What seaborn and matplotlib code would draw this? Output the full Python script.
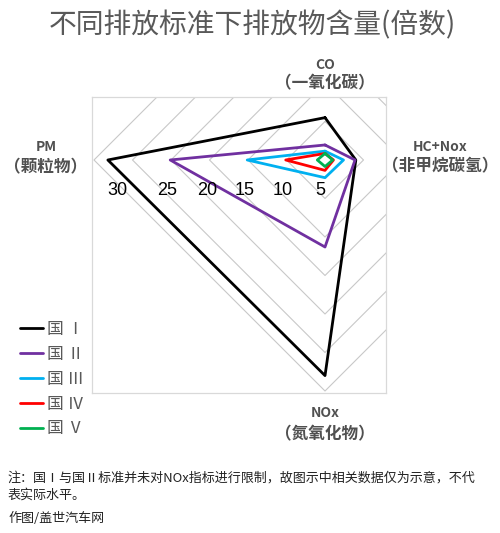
import matplotlib
matplotlib.use("Agg")
import matplotlib.pyplot as plt
import seaborn as sns
import pandas as pd
import numpy as np

# ---- data ----
categories = ["CO", "HC+Nox", "NOx", "PM"]
cat_names = ["（一氧化碳）", "（非甲烷碳氢）", "（氮氧化物）", "（颗粒物）"]
series_names = ["国 Ⅰ", "国 Ⅱ", "国 Ⅲ", "国 Ⅳ", "国 Ⅴ"]
guo1 = [5.5, 4.0, 28.0, 28.2]
guo2 = [1.95, 3.9, 11.3, 20.1]
guo3 = [1.15, 2.4, 2.3, 10.1]
guo4 = [0.85, 1.1, 1.35, 5.1]
guo5 = [0.85, 1.0, 0.85, 1.0]
ring_values = [5, 10, 15, 20, 25, 30]
tick_labels = ["30", "25", "20", "15", "10", "5"]
colors = ["#000000", "#7030A0", "#00B0F0", "#FF0000", "#00B050"]

sns.set_theme(style="white")
plt.rcParams["font.family"] = ["Noto Sans CJK SC", "DejaVu Sans"]

W, H = 500, 533
fig = plt.figure(figsize=(W / 100, H / 100), dpi=100)

def fx(x):
    return x / W

def fy(y):
    return 1 - y / H

# axes frame in pixels: x 92..386, y 97..393 ; center at (325,160), 7.7 px/unit
ax = fig.add_axes([fx(92), fy(393), 294 / W, 296 / H])
ax.set_xlim(-30.26, 7.92)
ax.set_ylim(-30.26, 8.18)
ax.set_xticks([])
ax.set_yticks([])
for s in ax.spines.values():
    s.set_color("#d9d9d9")
    s.set_linewidth(0.9)

# direction of each category axis: CO up, HC right, NOx down, PM left
dirs = {"CO": (0, 1), "HC+Nox": (1, 0), "NOx": (0, -1), "PM": (-1, 0)}

# grid rings (diamonds)
for r in ring_values:
    gx = [dirs[c][0] * r for c in categories] + [dirs[categories[0]][0] * r]
    gy = [dirs[c][1] * r for c in categories] + [dirs[categories[0]][1] * r]
    ax.plot(gx, gy, color="#c8c8c8", lw=0.8, zorder=1)

rows = []
for name, vals in zip(series_names, [guo1, guo2, guo3, guo4, guo5]):
    seq = list(zip(categories, vals)) + [(categories[0], vals[0])]
    for i, (c, v) in enumerate(seq):
        rows.append({"series": name, "order": i,
                     "x": dirs[c][0] * v, "y": dirs[c][1] * v})
df = pd.DataFrame(rows)

sns.lineplot(data=df, x="x", y="y", hue="series", hue_order=series_names,
             palette=colors, sort=False, estimator=None, linewidth=2.0,
             ax=ax, zorder=3)
ax.set_xlabel("")
ax.set_ylabel("")

# value labels along the PM axis (placed as in the original)
label_r = [26.9, 20.5, 15.3, 10.4, 5.5, 0.6]
for r, t in zip(label_r, tick_labels):
    ax.text(-r, -3.9, t, ha="center", va="center", fontsize=13,
            color="#000000", family=["Liberation Sans", "DejaVu Sans"], zorder=4)

# legend
handles, labels = ax.get_legend_handles_labels()
for h, c in zip(handles, colors):
    h.set_linewidth(2.0)
    h.set_color(c)
leg = ax.legend(handles, labels, loc="upper left",
                bbox_to_anchor=(fx(20), fy(321)), bbox_transform=fig.transFigure,
                frameon=False, fontsize=12, handlelength=1.4, handletextpad=0.25,
                labelspacing=0.47, borderpad=0, borderaxespad=0)
for t in leg.get_texts():
    t.set_color("#595959")

# title
fig.text(fx(252), fy(25), "不同排放标准下排放物含量(倍数)", ha="center", va="center",
         fontsize=20, color="#595959")

# category labels
top_kw = dict(ha="center", va="center", fontsize=10, color="#505050", fontweight="bold")
sub_kw = dict(ha="center", va="center", fontsize=12, color="#505050", fontweight="bold")
pos = [(325, 65, 83), (440, 147, 166), (325, 413, 434), (46, 147, 167)]
for c, n, (x, y1, y2) in zip(categories, cat_names, pos):
    fig.text(fx(x), fy(y1), c, **top_kw)
    fig.text(fx(x), fy(y2), n, **sub_kw)

# notes
note_kw = dict(ha="left", va="center", fontsize=9.4, color="#222222")
fig.text(fx(8), fy(478), "注：国Ⅰ与国Ⅱ标准并未对NOx指标进行限制，故图示中相关数据仅为示意，不代", **note_kw)
fig.text(fx(8), fy(495), "表实际水平。", **note_kw)
fig.text(fx(8), fy(518), "作图/盖世汽车网", **note_kw)

fig.savefig("out.png", dpi=100)
